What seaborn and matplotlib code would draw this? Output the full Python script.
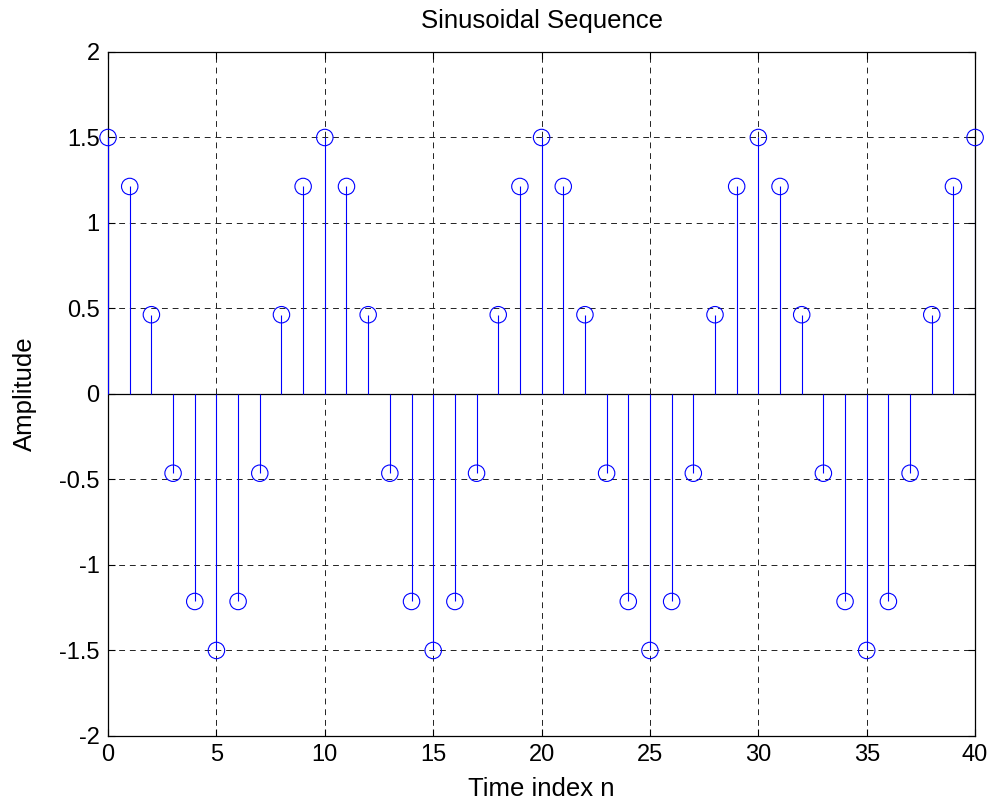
import matplotlib
matplotlib.use("Agg")
import matplotlib.pyplot as plt
import seaborn as sns
import pandas as pd

n = list(range(41))
amplitude = [1.5, 1.2135, 0.4635, -0.4635, -1.2135, -1.5, -1.2135, -0.4635, 0.4635, 1.2135,
             1.5, 1.2135, 0.4635, -0.4635, -1.2135, -1.5, -1.2135, -0.4635, 0.4635, 1.2135,
             1.5, 1.2135, 0.4635, -0.4635, -1.2135, -1.5, -1.2135, -0.4635, 0.4635, 1.2135,
             1.5, 1.2135, 0.4635, -0.4635, -1.2135, -1.5, -1.2135, -0.4635, 0.4635, 1.2135,
             1.5]
xticks = [0, 5, 10, 15, 20, 25, 30, 35, 40]
yticks = [-2, -1.5, -1, -0.5, 0, 0.5, 1, 1.5, 2]
ytick_labels = ["-2", "-1.5", "-1", "-0.5", "0", "0.5", "1", "1.5", "2"]

sns.set_style("white")
plt.rcParams['font.family'] = ['Liberation Sans', 'DejaVu Sans']
plt.rcParams['text.color'] = 'black'
plt.rcParams['axes.labelcolor'] = 'black'
plt.rcParams['xtick.color'] = 'black'
plt.rcParams['ytick.color'] = 'black'

df = pd.DataFrame({"n": n, "amp": amplitude})

fig = plt.figure(figsize=(9.94, 8.06), dpi=100)
ax = fig.add_axes([0.1087, 0.0869, 0.981 - 0.1087, 0.9355 - 0.0869])

ax.vlines(df["n"], 0, df["amp"], color="#0000ff", linewidth=0.8, zorder=3)
ax.axhline(0, color="#000000", linewidth=0.9, zorder=2)
sns.scatterplot(data=df, x="n", y="amp", ax=ax, marker="o", s=140,
                facecolor="none", edgecolor="#0000ff", linewidth=0.8, zorder=4,
                legend=False, clip_on=False)

ax.set_xlim(0, 40)
ax.set_ylim(-2, 2)
ax.set_xticks(xticks)
ax.set_xticklabels([str(t) for t in xticks])
ax.set_yticks(yticks)
ax.set_yticklabels(ytick_labels)
ax.grid(True, color="#222222", linestyle=(0, (6, 5)), linewidth=0.7)
ax.tick_params(direction="in", length=5, labelsize=17, colors="black",
               top=True, right=True, bottom=True, left=True, pad=6)
for s in ax.spines.values():
    s.set_color("black")
    s.set_linewidth(0.9)

ax.set_xlabel("Time index n", fontsize=18.5, labelpad=8, color="black")
ax.set_ylabel("Amplitude", fontsize=18.5, labelpad=16, color="black")
ax.set_title("Sinusoidal Sequence", fontsize=18.5, pad=17, color="black")

fig.savefig("out.png", dpi=100, facecolor="white")
